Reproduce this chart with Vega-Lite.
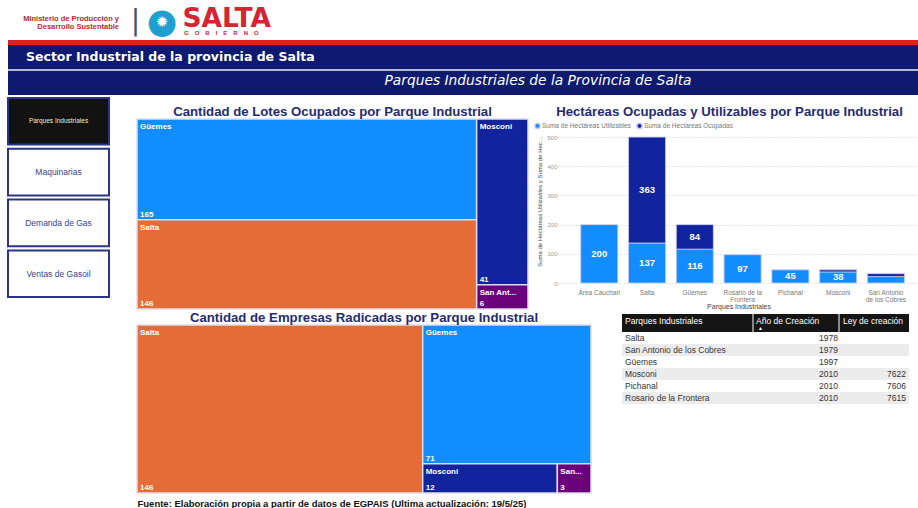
{
  "$schema": "https://vega.github.io/schema/vega-lite/v6.json",
  "background": "white",
  "padding": {"left": 7, "top": 0, "right": 0, "bottom": 0},
  "config": {"view": {"stroke": null}, "font": "Liberation Sans"},
  "datasets": {
    "botones": [
      {"boton": "Parques Industriales", "activo": true},
      {"boton": "Maquinarias", "activo": false},
      {"boton": "Demanda de Gas", "activo": false},
      {"boton": "Ventas de Gasoil", "activo": false}
    ],
    "lotes": [
      {"parque": "Güemes", "lotes": 165},
      {"parque": "Salta", "lotes": 146},
      {"parque": "Mosconi", "lotes": 41},
      {"parque": "San Antonio de los Cobres", "lotes": 6}
    ],
    "empresas": [
      {"parque": "Salta", "empresas": 146},
      {"parque": "Güemes", "empresas": 71},
      {"parque": "Mosconi", "empresas": 12},
      {"parque": "San Antonio de los Cobres", "empresas": 3}
    ],
    "hectareas": [
      {"parque": "Área Cauchari", "medida": "Suma de Hectáreas Utilizables", "hectareas": 200},
      {"parque": "Salta", "medida": "Suma de Hectáreas Utilizables", "hectareas": 137},
      {"parque": "Salta", "medida": "Suma de Hectareas Ocupadas", "hectareas": 363},
      {"parque": "Güemes", "medida": "Suma de Hectáreas Utilizables", "hectareas": 116},
      {"parque": "Güemes", "medida": "Suma de Hectareas Ocupadas", "hectareas": 84},
      {"parque": "Rosario de la Frontera", "medida": "Suma de Hectáreas Utilizables", "hectareas": 97},
      {"parque": "Pichanal", "medida": "Suma de Hectáreas Utilizables", "hectareas": 45},
      {"parque": "Mosconi", "medida": "Suma de Hectáreas Utilizables", "hectareas": 38},
      {"parque": "Mosconi", "medida": "Suma de Hectareas Ocupadas", "hectareas": 7},
      {"parque": "San Antonio de los Cobres", "medida": "Suma de Hectáreas Utilizables", "hectareas": 22},
      {"parque": "San Antonio de los Cobres", "medida": "Suma de Hectareas Ocupadas", "hectareas": 10}
    ],
    "tabla": [
      {"parque": "Salta", "anio": 1978, "ley": null},
      {"parque": "San Antonio de los Cobres", "anio": 1979, "ley": null},
      {"parque": "Güemes", "anio": 1997, "ley": null},
      {"parque": "Mosconi", "anio": 2010, "ley": 7622},
      {"parque": "Pichanal", "anio": 2010, "ley": 7606},
      {"parque": "Rosario de la Frontera", "anio": 2010, "ley": 7615}
    ]
  },
  "spacing": 0,
  "resolve": {"scale": {"color": "independent"}},
  "vconcat": [
    {
      "width": 911, "height": 39,
      "layer": [
        {"data": {"values": [{"fondo": "logo"}]}, "mark": {"type": "rect", "fill": "white"}, "encoding": {}},
        {"data": {"values": [{"linea": "Ministerio de Producción y"}]}, "mark": {"type": "text", "align": "right", "baseline": "alphabetic", "dx": -344.5, "dy": 1.5, "fontSize": 7.5, "fontWeight": "bold", "color": "#c0262d"}, "encoding": {"text": {"field": "linea"}}},
        {"data": {"values": [{"linea": "Desarrollo Sustentable"}]}, "mark": {"type": "text", "align": "right", "baseline": "alphabetic", "dx": -344.5, "dy": 9.5, "fontSize": 7.5, "fontWeight": "bold", "color": "#c0262d"}, "encoding": {"text": {"field": "linea"}}},
        {"data": {"values": [{"linea": "|"}]}, "mark": {"type": "text", "align": "center", "baseline": "middle", "dx": -328, "dy": 2.5, "fontSize": 28, "font": "DejaVu Sans", "color": "#4a4f6e"}, "encoding": {"text": {"field": "linea"}}},
        {"data": {"values": [{"linea": "●"}]}, "mark": {"type": "text", "align": "center", "baseline": "middle", "dx": -301.5, "dy": 2, "fontSize": 35, "font": "DejaVu Sans", "color": "#1e9fd0"}, "encoding": {"text": {"field": "linea"}}},
        {"data": {"values": [{"linea": "✹"}]}, "mark": {"type": "text", "align": "center", "baseline": "middle", "dx": -301.5, "dy": 2, "fontSize": 15, "font": "DejaVu Sans", "color": "white"}, "encoding": {"text": {"field": "linea"}}},
        {"data": {"values": [{"linea": "SALTA"}]}, "mark": {"type": "text", "align": "left", "baseline": "alphabetic", "dx": -281, "dy": 7.5, "fontSize": 26.5, "fontWeight": "bold", "font": "DejaVu Sans", "color": "#d42535"}, "encoding": {"text": {"field": "linea"}}},
        {"data": {"values": [{"linea": "G\u2003O\u2003B\u2003I\u2003E\u2003R\u2003N\u2003O"}]}, "mark": {"type": "text", "align": "left", "baseline": "alphabetic", "dx": -279.5, "dy": 15, "fontSize": 6, "fontWeight": "bold", "color": "#d42535"}, "encoding": {"text": {"field": "linea"}}}
      ]
    },
    {
      "width": 911, "height": 5, "view": {"fill": "#dc1e2d", "stroke": null},
      "data": {"values": [{"banda": "roja"}]},
      "mark": {"type": "rect", "fill": "#dc1e2d"}, "encoding": {}
    },
    {
      "width": 911, "height": 24, "view": {"fill": "#0e1a70", "stroke": null},
      "data": {"values": [{"titulo": "Sector Industrial de la provincia de Salta"}]},
      "mark": {"type": "text", "align": "left", "baseline": "alphabetic", "dx": -437.5, "dy": 3.5, "fontSize": 12.5, "font": "DejaVu Sans", "fontWeight": "bold", "color": "white"},
      "encoding": {"text": {"field": "titulo"}}
    },
    {
      "width": 911, "height": 2, "view": {"fill": "#b3b8d9", "stroke": null},
      "data": {"values": [{"banda": "separador"}]},
      "mark": {"type": "rect", "fill": "#b3b8d9"}, "encoding": {}
    },
    {
      "width": 911, "height": 24, "view": {"fill": "#0e1a70", "stroke": null},
      "data": {"values": [{"titulo": "Parques Industriales de la Provincia de Salta"}]},
      "mark": {"type": "text", "align": "center", "baseline": "middle", "dx": 74.5, "dy": -2, "fontSize": 13.8, "font": "DejaVu Sans", "fontStyle": "italic", "color": "white"},
      "encoding": {"text": {"field": "titulo"}}
    },
    {
      "spacing": 26,
      "resolve": {"scale": {"color": "independent"}},
      "hconcat": [
        {
          "width": 101, "height": 205,
          "data": {"name": "botones"},
          "encoding": {"y": {"field": "boton", "type": "nominal", "sort": null, "scale": {"paddingInner": 0.083, "paddingOuter": 0.06}, "axis": null}},
          "layer": [
            {"mark": {"type": "rect", "stroke": "#2b3486", "strokeWidth": 2}, "encoding": {"fill": {"condition": {"test": "datum.activo", "value": "#121212"}, "value": "#ffffff"}}},
            {"mark": {"type": "text", "baseline": "middle"}, "encoding": {"text": {"field": "boton"}, "color": {"condition": {"test": "datum.activo", "value": "#eeeed0"}, "value": "#3b3f8e"}, "size": {"condition": {"test": "datum.activo", "value": 6.5}, "value": 8.5}}}
          ]
        },
        {
          "spacing": 0,
          "resolve": {"scale": {"color": "independent"}},
          "vconcat": [
            {"width": 1, "height": 9, "data": {"values": [{"vacio": true}]}, "mark": {"type": "rect", "opacity": 0}, "encoding": {}},
            {
              "spacing": 5,
              "resolve": {"scale": {"color": "independent"}},
              "hconcat": [
                {
                  "width": 391, "height": 190,
                  "title": {"text": "Cantidad de Lotes Ocupados por Parque Industrial", "fontSize": 13.2, "fontWeight": "bold", "color": "#252b73", "offset": -0.5, "anchor": "middle"},
                  "data": {"name": "lotes"},
                  "transform": [
                    {"window": [{"op": "row_number", "as": "rango"}], "sort": [{"field": "lotes", "order": "descending"}]},
                    {"calculate": "datum.rango <= 2 ? 1 : 2", "as": "columna"},
                    {"calculate": "datum.rango", "as": "fila"},
                    {"joinaggregate": [{"op": "sum", "field": "lotes", "as": "total"}]},
                    {"stack": "lotes", "groupby": [], "sort": [{"field": "columna"}, {"field": "rango"}], "as": ["s0", "s1"]},
                    {"joinaggregate": [{"op": "min", "field": "s0", "as": "cx0"}, {"op": "max", "field": "s1", "as": "cx1"}], "groupby": ["columna"]},
                    {"stack": "lotes", "groupby": ["columna"], "sort": [{"field": "rango"}], "offset": "normalize", "as": ["t0", "t1"]},
                    {"joinaggregate": [{"op": "min", "field": "t0", "as": "y0"}, {"op": "max", "field": "t1", "as": "y1"}], "groupby": ["columna", "fila"]},
                    {"stack": "lotes", "groupby": ["columna", "fila"], "sort": [{"field": "rango"}], "offset": "normalize", "as": ["u0", "u1"]},
                    {"calculate": "datum.cx0 + datum.u0 * (datum.cx1 - datum.cx0)", "as": "x0"},
                    {"calculate": "datum.cx0 + datum.u1 * (datum.cx1 - datum.cx0)", "as": "x1"},
                    {"calculate": "truncate(datum.parque, floor((datum.x1 - datum.x0) / datum.total * 391 / 5.1), 'right', '...')", "as": "etiqueta"}
                  ],
                  "encoding": {
                    "x": {"field": "x0", "type": "quantitative", "scale": {"nice": false, "zero": true}, "axis": null}
                  },
                  "layer": [
                    {"mark": {"type": "rect", "stroke": "#dcdde8", "strokeWidth": 1.5},
                     "encoding": {
                       "x2": {"field": "x1"},
                       "y": {"field": "y0", "type": "quantitative", "scale": {"domain": [0, 1], "reverse": true, "nice": false}, "axis": null},
                       "y2": {"field": "y1"},
                       "color": {"field": "parque", "type": "nominal", "scale": {"domain": ["Güemes", "Salta", "Mosconi", "San Antonio de los Cobres"], "range": ["#118DFF", "#E66C37", "#12239E", "#6B007B"]}, "legend": null}
                     }},
                    {"mark": {"type": "text", "align": "left", "baseline": "top", "dx": 3, "dy": 4, "fontSize": 8, "fontWeight": "bold", "color": "white"},
                     "encoding": {"y": {"field": "y0", "type": "quantitative", "axis": null}, "text": {"field": "etiqueta"}}},
                    {"mark": {"type": "text", "align": "left", "baseline": "bottom", "dx": 3, "dy": -1, "fontSize": 8, "fontWeight": "bold", "color": "white"},
                     "encoding": {"y": {"field": "y1", "type": "quantitative", "axis": null}, "text": {"field": "lotes", "type": "quantitative"}}}
                  ]
                },
                {
                  "width": 361, "height": 164,
                  "title": {"text": "Hectáreas Ocupadas y Utilizables por Parque Industrial", "fontSize": 13.2, "fontWeight": "bold", "color": "#252b73", "offset": -0.5, "anchor": "middle", "dx": -9},
                  "data": {"name": "hectareas"},
                  "transform": [
                    {"stack": "hectareas", "groupby": ["parque"], "sort": [{"field": "medida", "order": "descending"}], "as": ["h0", "h1"]},
                    {"calculate": "(datum.h0 + datum.h1) / 2", "as": "hmid"}
                  ],
                  "encoding": {
                    "x": {"field": "parque", "type": "nominal",
                          "sort": ["Área Cauchari", "Salta", "Güemes", "Rosario de la Frontera", "Pichanal", "Mosconi", "San Antonio de los Cobres"],
                          "scale": {"paddingInner": 0.225, "paddingOuter": 0.39, "align": 0.61},
                          "axis": {"title": "Parques Industriales", "labelAngle": 0, "labelFontSize": 6.5, "labelColor": "#777777", "labelPadding": 6, "labelLineHeight": 7, "ticks": false, "domain": false,
                                   "labelExpr": "datum.label == 'Rosario de la Frontera' ? ['Rosario de la', 'Frontera'] : datum.label == 'San Antonio de los Cobres' ? ['San Antonio', 'de los Cobres'] : datum.label",
                                   "titleFontSize": 7, "titleFontWeight": "normal", "titleColor": "#444444", "titlePadding": 0}}
                  },
                  "layer": [
                    {"mark": {"type": "bar", "stroke": "#c9ccef", "strokeWidth": 0.8},
                     "encoding": {
                       "y": {"field": "h0", "type": "quantitative", "title": "Suma de Hectáreas Utilizables y Suma de Hectareas Ocupadas",
                             "scale": {"domain": [0, 562], "nice": false},
                             "axis": {"values": [0, 100, 200, 300, 400, 500], "grid": true, "gridDash": [1, 2], "gridColor": "#cfcfcf", "domain": false, "ticks": false, "labelFontSize": 6, "labelColor": "#999999", "labelPadding": 1, "titleFontSize": 6, "titleFontWeight": "normal", "titleColor": "#444444", "titleLimit": 132, "titlePadding": 4}},
                       "y2": {"field": "h1"},
                       "color": {"field": "medida", "type": "nominal",
                                 "scale": {"domain": ["Suma de Hectáreas Utilizables", "Suma de Hectareas Ocupadas"], "range": ["#118DFF", "#12239E"]},
                                 "legend": {"title": null, "orient": "none", "legendX": -24, "legendY": 3, "direction": "horizontal", "symbolType": "circle", "symbolSize": 28, "labelFontSize": 6.5, "labelColor": "#777777", "columnPadding": 2, "labelOffset": 1, "padding": 0}}
                     }},
                    {"transform": [{"filter": "datum.hectareas >= 30"}],
                     "mark": {"type": "text", "baseline": "middle", "fontSize": 9.5, "fontWeight": "bold", "color": "white"},
                     "encoding": {
                       "y": {"field": "hmid", "type": "quantitative", "title": "Suma de Hectáreas Utilizables y Suma de Hectareas Ocupadas",
                             "axis": {"values": [0, 100, 200, 300, 400, 500], "grid": true, "gridDash": [1, 2], "gridColor": "#cfcfcf", "domain": false, "ticks": false, "labelFontSize": 6, "labelColor": "#999999", "labelPadding": 1, "titleFontSize": 6, "titleFontWeight": "normal", "titleColor": "#444444", "titleLimit": 132, "titlePadding": 4}},
                       "text": {"field": "hectareas", "type": "quantitative"}
                     }}
                  ]
                }
              ]
            },
            {
              "spacing": 30,
              "resolve": {"scale": {"color": "independent"}},
              "hconcat": [
                {
                  "width": 454, "height": 168,
                  "title": {"text": "Cantidad de Empresas Radicadas por Parque Industrial", "fontSize": 13.2, "fontWeight": "bold", "color": "#252b73", "offset": -0.5, "anchor": "middle"},
                  "data": {"name": "empresas"},
                  "transform": [
                    {"window": [{"op": "row_number", "as": "rango"}], "sort": [{"field": "empresas", "order": "descending"}]},
                    {"calculate": "datum.rango == 1 ? 1 : 2", "as": "columna"},
                    {"calculate": "datum.rango <= 2 ? 1 : 2", "as": "fila"},
                    {"joinaggregate": [{"op": "sum", "field": "empresas", "as": "total"}]},
                    {"stack": "empresas", "groupby": [], "sort": [{"field": "columna"}, {"field": "rango"}], "as": ["s0", "s1"]},
                    {"joinaggregate": [{"op": "min", "field": "s0", "as": "cx0"}, {"op": "max", "field": "s1", "as": "cx1"}], "groupby": ["columna"]},
                    {"stack": "empresas", "groupby": ["columna"], "sort": [{"field": "rango"}], "offset": "normalize", "as": ["t0", "t1"]},
                    {"joinaggregate": [{"op": "min", "field": "t0", "as": "y0"}, {"op": "max", "field": "t1", "as": "y1"}], "groupby": ["columna", "fila"]},
                    {"stack": "empresas", "groupby": ["columna", "fila"], "sort": [{"field": "rango"}], "offset": "normalize", "as": ["u0", "u1"]},
                    {"calculate": "datum.cx0 + datum.u0 * (datum.cx1 - datum.cx0)", "as": "x0"},
                    {"calculate": "datum.cx0 + datum.u1 * (datum.cx1 - datum.cx0)", "as": "x1"},
                    {"calculate": "truncate(datum.parque, floor((datum.x1 - datum.x0) / datum.total * 454 / 5.1), 'right', '...')", "as": "etiqueta"}
                  ],
                  "encoding": {
                    "x": {"field": "x0", "type": "quantitative", "scale": {"nice": false, "zero": true},
                          "axis": {"title": "Fuente: Elaboración propia a partir de datos de EGPAIS (Ultima actualización: 19/5/25)", "labels": false, "ticks": false, "domain": false, "grid": false, "titleAnchor": "start", "titleAlign": "left", "titleFontSize": 9.5, "titleFontWeight": "bold", "titleColor": "#111111", "titlePadding": 5, "titleLimit": 600}}
                  },
                  "layer": [
                    {"mark": {"type": "rect", "stroke": "#dcdde8", "strokeWidth": 1.5},
                     "encoding": {
                       "x2": {"field": "x1"},
                       "y": {"field": "y0", "type": "quantitative", "scale": {"domain": [0, 1], "reverse": true, "nice": false}, "axis": null},
                       "y2": {"field": "y1"},
                       "color": {"field": "parque", "type": "nominal", "scale": {"domain": ["Güemes", "Salta", "Mosconi", "San Antonio de los Cobres"], "range": ["#118DFF", "#E66C37", "#12239E", "#6B007B"]}, "legend": null}
                     }},
                    {"mark": {"type": "text", "align": "left", "baseline": "top", "dx": 3, "dy": 4, "fontSize": 8, "fontWeight": "bold", "color": "white"},
                     "encoding": {"y": {"field": "y0", "type": "quantitative", "axis": null}, "text": {"field": "etiqueta"}}},
                    {"mark": {"type": "text", "align": "left", "baseline": "bottom", "dx": 3, "dy": -1, "fontSize": 8, "fontWeight": "bold", "color": "white"},
                     "encoding": {"y": {"field": "y1", "type": "quantitative", "axis": null}, "text": {"field": "empresas", "type": "quantitative"}}}
                  ]
                },
                {
                  "width": 287, "height": 79,
                  "data": {"name": "tabla"},
                  "transform": [
                    {"window": [{"op": "row_number", "as": "fila"}], "sort": [{"field": "anio"}, {"field": "parque"}]},
                    {"calculate": "datum.fila - 1", "as": "f0"},
                    {"calculate": "datum.fila - 0.5", "as": "fm"}
                  ],
                  "layer": [
                    {"mark": {"type": "rect"},
                     "encoding": {
                       "y": {"field": "f0", "type": "quantitative", "scale": {"domain": [-0.5833, 6], "reverse": true, "nice": false, "zero": false}, "axis": null},
                       "y2": {"field": "fila"},
                       "fill": {"condition": {"test": "datum.fila % 2 == 0", "value": "#ececec"}, "value": "#ffffff"}
                     }},
                    {"data": {"values": [{"encabezado": true}]},
                     "mark": {"type": "rect", "fill": "#151515"},
                     "encoding": {"y": {"datum": -1.5, "type": "quantitative", "axis": null}, "y2": {"datum": 0}}},
                    {"data": {"values": [{"encabezado": true}]},
                     "mark": {"type": "rule", "color": "white", "strokeWidth": 1},
                     "encoding": {"x": {"datum": 131, "type": "quantitative", "scale": {"domain": [0, 287], "nice": false, "zero": false}, "axis": null}, "y": {"datum": -1.5, "type": "quantitative", "axis": null}, "y2": {"datum": 0}}},
                    {"data": {"values": [{"encabezado": true}]},
                     "mark": {"type": "rule", "color": "white", "strokeWidth": 1},
                     "encoding": {"x": {"datum": 217, "type": "quantitative", "axis": null}, "y": {"datum": -1.5, "type": "quantitative", "axis": null}, "y2": {"datum": 0}}},
                    {"data": {"values": [{"encabezado": "Parques Industriales"}]},
                     "mark": {"type": "text", "align": "left", "baseline": "middle", "fontSize": 8.5, "color": "white"},
                     "encoding": {"x": {"datum": 3, "type": "quantitative", "axis": null}, "y": {"datum": -0.95, "type": "quantitative", "axis": null}, "text": {"field": "encabezado"}}},
                    {"data": {"values": [{"encabezado": "Año de Creación"}]},
                     "mark": {"type": "text", "align": "left", "baseline": "middle", "fontSize": 8.5, "color": "white"},
                     "encoding": {"x": {"datum": 134, "type": "quantitative", "axis": null}, "y": {"datum": -0.95, "type": "quantitative", "axis": null}, "text": {"field": "encabezado"}}},
                    {"data": {"values": [{"encabezado": "▲"}]},
                     "mark": {"type": "text", "align": "left", "baseline": "middle", "fontSize": 5, "color": "white"},
                     "encoding": {"x": {"datum": 136, "type": "quantitative", "axis": null}, "y": {"datum": -0.3, "type": "quantitative", "axis": null}, "text": {"field": "encabezado"}}},
                    {"data": {"values": [{"encabezado": "Ley de creación"}]},
                     "mark": {"type": "text", "align": "left", "baseline": "middle", "fontSize": 8.5, "color": "white"},
                     "encoding": {"x": {"datum": 221, "type": "quantitative", "axis": null}, "y": {"datum": -0.95, "type": "quantitative", "axis": null}, "text": {"field": "encabezado"}}},
                    {"mark": {"type": "text", "align": "left", "baseline": "middle", "fontSize": 8.5, "color": "#333333"},
                     "encoding": {"x": {"datum": 3, "type": "quantitative", "axis": null}, "y": {"field": "fm", "type": "quantitative", "axis": null}, "text": {"field": "parque"}}},
                    {"mark": {"type": "text", "align": "right", "baseline": "middle", "fontSize": 8.5, "color": "#333333"},
                     "encoding": {"x": {"datum": 216, "type": "quantitative", "axis": null}, "y": {"field": "fm", "type": "quantitative", "axis": null}, "text": {"field": "anio", "type": "nominal"}}},
                    {"transform": [{"filter": "isValid(datum.ley)"}],
                     "mark": {"type": "text", "align": "right", "baseline": "middle", "fontSize": 8.5, "color": "#333333"},
                     "encoding": {"x": {"datum": 284, "type": "quantitative", "axis": null}, "y": {"field": "fm", "type": "quantitative", "axis": null}, "text": {"field": "ley", "type": "nominal"}}}
                  ]
                }
              ]
            }
          ]
        }
      ]
    }
  ]
}
